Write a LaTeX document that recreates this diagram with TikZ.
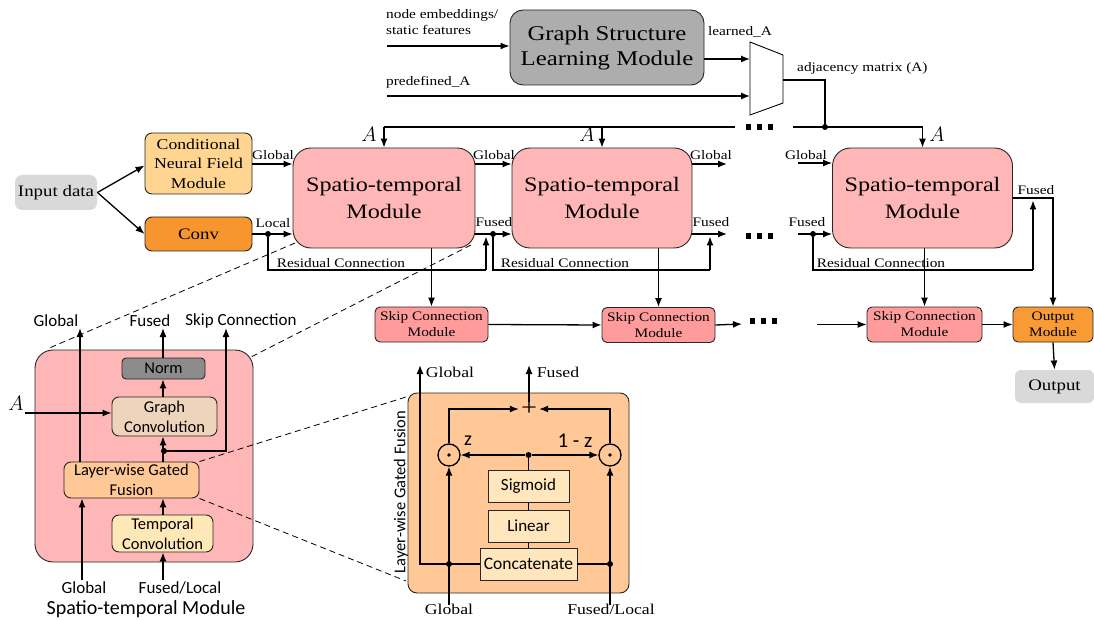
\documentclass[tikz,border=0pt]{standalone}
\usepackage{fontspec}
\setmainfont[FakeStretch=1.18]{Liberation Serif}
\newfontfamily\calib{Carlito}
\usetikzlibrary{arrows.meta,calc}
\newcommand\fs[2]{\fontsize{#1}{#2}\selectfont}
\definecolor{gslgray}{HTML}{ADADAD}
\definecolor{lgray}{HTML}{D9D9D9}
\definecolor{cnfc}{HTML}{FFD591}
\definecolor{convc}{HTML}{F7962E}
\definecolor{stpink}{HTML}{FFB6B6}
\definecolor{skipc}{HTML}{FF9B9B}
\definecolor{outc}{HTML}{F99B34}
\definecolor{normc}{HTML}{8C8C8C}
\definecolor{gconvc}{HTML}{EFD4BC}
\definecolor{lgfc}{HTML}{FFC896}
\definecolor{tconvc}{HTML}{FFE8B8}
\definecolor{innerc}{HTML}{FFE6BC}
\begin{document}
\begin{tikzpicture}[x=1pt,y=-1pt,
  blk/.style={draw=black!85,line width=0.9pt,rounded corners=7pt,align=center,inner sep=0pt},
  sq/.style={draw=black!85,line width=0.9pt,align=center,inner sep=0pt,fill=innerc},
  ln/.style={line width=1.3pt},
  arr/.style={line width=1.3pt,-{Latex[length=9pt,width=7pt]}},
  dsh/.style={line width=0.8pt,dash pattern=on 6pt off 4pt},
  dotc/.style={circle,fill=black,inner sep=0pt,minimum size=6pt},
  lbl/.style={inner sep=0pt,font=\fs{13}{16}},
  slbl/.style={inner sep=0pt,font=\calib\fs{17}{20}},
  flbl/.style={inner sep=0pt,font=\fs{15}{18}},
  odot/.style={circle,draw,line width=1.3pt,minimum size=22pt,inner sep=0pt,fill=lgfc},
]
\useasboundingbox (0,0) rectangle (1094,620);
\newcommand\dotsq[2]{\foreach \k in {0,11,22}{\fill (#1+\k,#2-2.7) rectangle ++(5.4,5.4);}}

% ---------- top: graph structure learning ----------
\node[blk,fill=gslgray,rounded corners=13pt,minimum width=194pt,minimum height=75pt,font=\fs{21}{25}] (gsl) at (607,47.5) {Graph Structure\\Learning Module};
\node[lbl,anchor=north west,align=left] (ne) at (386,9) {node embeddings/\\static features};
\coordinate (neS) at (387,46);
\draw[arr] (neS) -- (neS -| gsl.west);
\coordinate (mtl) at (750,42);
\coordinate (mbl) at (750,115);
\coordinate (mtr) at (783,55);
\coordinate (mbr) at (783,103);
\draw[line width=0.9pt,fill=white] (mtl) -- (mtr) -- (mbr) -- (mbl) -- cycle;
\coordinate (m1) at (750,59);
\coordinate (m2) at (750,96);
\coordinate (mo) at (783,80);
\draw[arr] (gsl.east |- m1) -- (m1);
\node[lbl] (learned) at (740,32) {learned\_A};
\node[lbl,anchor=west] (pre) at (386,82) {predefined\_A};
\coordinate (preS) at (387,96);
\draw[arr] (preS) -- (m2);
\node[lbl,anchor=west] (adj) at (797,68) {adjacency matrix (A)};
\coordinate (bus) at (825,127);
\draw[ln] (mo) -- (bus |- mo) -- (bus);
\node[dotc] (busdot) at (bus) {};

% ---------- input side ----------
\node[blk,fill=lgray,draw=none,font=\fs{16}{19}] (inp) at (56,192.5) [minimum width=82pt,minimum height=35pt] {Input data};
\node[blk,fill=cnfc,minimum width=107pt,minimum height=61pt,font=\fs{15}{19.5}] (cnf) at (198.5,163.5) {Conditional\\Neural Field\\Module};
\node[blk,fill=convc,minimum width=107pt,minimum height=34pt,font=\fs{16}{19}] (conv) at (198.5,234) {Conv};
\draw[arr] (inp.east) -- ($(cnf.west)+(0,2)$);
\draw[arr] (inp.east) -- (conv.west);

% ---------- spatio-temporal modules ----------
\tikzset{stm/.style={blk,fill=stpink,rounded corners=18pt,minimum height=100pt,font=\fs{20.5}{27}}}
\node[stm,minimum width=182pt] (st1) at (384,198) {Spatio-temporal\\Module};
\node[stm,minimum width=180pt] (st2) at (602,198) {Spatio-temporal\\Module};
\node[stm,minimum width=180pt] (st3) at (922.5,198) {Spatio-temporal\\Module};

% A bus
\coordinate (busL) at (735,127);
\coordinate (busR) at (793,127);
\draw[ln] (busL) -- (st1.north |- busL);
\draw[arr] (st1.north |- busL) -- (st1.north);
\draw[arr] (st2.north |- busL) -- (st2.north);
\draw[ln] (busR) -- (bus);
\draw[arr] (bus) -- (st3.north |- bus) -- (st3.north);
\dotsq{746}{127}
\node[inner sep=0pt,font=\fs{22}{22}] (A1) at (369,134) {$A$};
\node[inner sep=0pt,font=\fs{22}{22}] (A2) at (587,134) {$A$};
\node[inner sep=0pt,font=\fs{22}{22}] (A3) at (937,134) {$A$};

% st1 inputs
\coordinate (g0) at (252,164);
\coordinate (l0) at (252,234);
\draw[arr] (g0) -- (g0 -| st1.west);
\node[lbl] (gl0) at (273,155) {Global};
\draw[arr] (l0) -- (l0 -| st1.west);
\node[lbl] (ll0) at (273,223) {Local};
\node[dotc] (d0) at (268,234) {};
\coordinate (r1) at (486,270);
\draw[ln] (d0) -- (d0 |- r1) -- (r1);
\draw[arr] (r1) -- (486,236.5);
\node[lbl] (rl1) at (341,263) {Residual Connection};

% st1 -> st2
\coordinate (g1) at (475,164);
\coordinate (f1) at (475,234);
\draw[arr] (g1) -- (g1 -| st2.west);
\node[lbl] (gl1) at (494,155) {Global};
\draw[arr] (f1) -- (f1 -| st2.west);
\node[lbl] (fl1) at (494,222) {Fused};
\node[dotc] (d1) at (493,234) {};
\coordinate (r2) at (710,270);
\draw[ln] (d1) -- (d1 |- r2) -- (r2);
\draw[arr] (r2) -- (710,236.5);
\node[lbl] (rl2) at (565,263) {Residual Connection};

% st2 outputs
\coordinate (g2) at (692,164);
\coordinate (f2) at (692,234);
\draw[arr] (g2) -- (727,164);
\node[lbl] (gl2) at (711,155) {Global};
\draw[arr] (f2) -- (727,234);
\node[lbl] (fl2) at (711,222) {Fused};
\dotsq{746}{236}

% st3 inputs
\coordinate (g3) at (798,163);
\coordinate (f3) at (798,234);
\draw[arr] (g3) -- (g3 -| st3.west);
\node[lbl] (gl3) at (806,155) {Global};
\draw[arr] (f3) -- (f3 -| st3.west);
\node[lbl] (fl3) at (807,222) {Fused};
\node[dotc] (d3) at (813,234) {};
\coordinate (r3) at (1033,270);
\draw[ln] (d3) -- (d3 |- r3) -- (r3);
\draw[arr] (r3) -- (1033,200.5);
\node[lbl] (rl3) at (881,263) {Residual Connection};

% ---------- skip row ----------
\tikzset{skm/.style={blk,fill=skipc,rounded corners=5pt,minimum height=35pt,font=\fs{13}{16}}}
\node[skm,minimum width=113pt] (sk1) at (431.5,324.5) {Skip Connection\\Module};
\node[skm,minimum width=113pt] (sk2) at (658.5,325) {Skip Connection\\Module};
\node[skm,minimum width=115pt] (sk3) at (924.5,324.5) {Skip Connection\\Module};
\node[skm,fill=outc,minimum width=80pt] (outm) at (1053,324.5) {Output\\Module};
\node[blk,fill=lgray,draw=none,rounded corners=6pt,minimum width=79pt,minimum height=33pt,font=\fs{16}{19}] (outb) at (1054.5,386.5) {Output};
\draw[arr] (sk1.north |- st1.south) -- (sk1.north);
\draw[arr] (sk2.north |- st2.south) -- (sk2.north);
\draw[arr] (sk3.north |- st3.south) -- (sk3.north);
\draw[arr] (sk1.east) -- (sk2.west);
\coordinate (skd) at (742,324);
\draw[arr] (sk2.east) -- (skd);
\dotsq{750}{321}
\coordinate (sks) at (817,324.5);
\draw[arr] (sks) -- (sk3.west);
\draw[arr] (sk3.east) -- (outm.west);
\draw[arr] (outm.south) -- (outb.north);
\coordinate (fo) at (1013,198);
\draw[arr] (fo) -- (outm.north |- fo) -- (outm.north);
\node[lbl] (flo) at (1036,190) {Fused};

% ---------- detail: spatio-temporal module ----------
\tikzset{sbx/.style={blk,font=\calib\fs{16.5}{20}}}
\node[blk,fill=stpink,rounded corners=18pt,minimum width=218pt,minimum height=212pt] (big) at (144,456) {};
\node[sbx,fill=normc,rounded corners=4pt,minimum width=83pt,minimum height=21pt] (norm) at (163.5,368.5) {Norm};
\node[sbx,fill=gconvc,minimum width=105pt,minimum height=39pt] (gconv) at (164.5,416.5) {Graph\\Convolution};
\node[sbx,fill=lgfc,minimum width=135pt,minimum height=36pt] (lgf) at (131.5,480) {Layer-wise Gated\\Fusion};
\node[sbx,fill=tconvc,minimum width=101pt,minimum height=37pt] (tconv) at (162.5,533.5) {Temporal\\Convolution};
\coordinate (gb) at (82,580);
\draw[arr] (gb) -- (gb |- lgf.south);
\node[slbl] (gbl) at (84,588) {Global};
\coordinate (fb) at (163,580);
\draw[arr] (fb) -- (fb |- tconv.south);
\node[slbl] (fbl) at (180,588) {Fused/Local};
\draw[arr] (tconv.north -| fb) -- (lgf.south -| fb);
\coordinate (gt) at (80,328);
\draw[arr] (gt |- lgf.north) -- (gt);
\node[slbl] (gtl) at (56,321) {Global};
\node[dotc] (sd) at (164,451) {};
\draw[arr] (lgf.north -| fb) -- (gconv.south -| fb);
\coordinate (st) at (226,328);
\draw[arr] (sd) -- (st |- sd) -- (st);
\node[slbl] (stl) at (241,321) {Skip Connection};
\draw[arr] (gconv.north -| fb) -- (norm.south -| fb);
\coordinate (ft) at (163,328);
\draw[arr] (norm.north -| ft) -- (ft);
\node[slbl] (ftl) at (150,321) {Fused};
\node[inner sep=0pt,font=\fs{22}{22}] (A4) at (16,403) {$A$};
\coordinate (aL) at (25,413);
\draw[arr] (aL) -- (aL -| gconv.west);
\node[inner sep=0pt,font=\calib\fs{20}{22}] (cap) at (146,609) {Spatio-temporal Module};

% ---------- detail: layer-wise gated fusion ----------
\node[blk,fill=lgfc,rounded corners=9pt,minimum width=221pt,minimum height=200pt] (fbox) at (518.5,493) {};
\node[inner sep=0pt,rotate=90,font=\calib\fs{16.5}{18}] (fvt) at (401,492) {Layer-wise Gated Fusion};
\node[sq,minimum width=97pt,minimum height=32pt,font=\calib\fs{17.5}{19}] (cat) at (528.5,564) {Concatenate};
\node[sq,minimum width=81pt,minimum height=32pt,font=\calib\fs{17}{19}] (lin) at (528.5,526) {Linear};
\node[sq,minimum width=81pt,minimum height=32pt,font=\calib\fs{17}{19}] (sig) at (528.5,486) {Sigmoid};
\node[odot] (oL) at (449,455) {};
\node[odot] (oR) at (610,455) {};
\fill (oL) circle (1.8pt);
\fill (oR) circle (1.8pt);
\node[inner sep=0pt,font=\fs{24}{24}] (plus) at (529,409) {+};
\node[dotc] (gd) at (528.5,455) {};
\draw[ln] (cat.north) -- (lin.south);
\draw[ln] (lin.north) -- (sig.south);
\draw[ln] (sig.north) -- (gd);
\draw[arr] (gd) -- (oL.east);
\draw[arr] (gd) -- (oR.west);
\node[inner sep=0pt,font=\calib\fs{20}{22}] (zl) at (468,441) {z};
\node[inner sep=0pt,font=\calib\fs{21}{22}] (zr) at (575,441) {1 - z};
\draw[arr] (oL.north) -- (oL.north |- plus) -- ($(plus.west)+(-2,0)$);
\draw[arr] (oR.north) -- (oR.north |- plus) -- ($(plus.east)+(2,0)$);
\coordinate (fut) at (529,365);
\draw[arr] (plus.north) -- (fut);
\node[flbl] (futl) at (558,372) {Fused};
\node[dotc] (cl) at (449,564) {};
\node[dotc] (cr) at (610,564) {};
\coordinate (gut) at (420,365);
\draw[arr] (cat.west) -- (gut |- cat.west) -- (gut);
\node[flbl] (gutl) at (450,372) {Global};
\draw[ln] (cat.east) -- (cr);
\coordinate (gin) at (449,605);
\draw[arr] (gin) -- (oL.south);
\node[flbl] (ginl) at (449,609) {Global};
\coordinate (fin) at (610,605);
\draw[arr] (fin) -- (oR.south);
\node[flbl] (finl) at (611,609) {Fused/Local};

% ---------- dashed zoom lines ----------
\draw[dsh] (295,243) -- (47,349);
\draw[dsh] (471,245) -- (251,357);
\draw[dsh] (lgf.north east) -- (406,397);
\draw[dsh] (lgf.south east) -- (406,581);
\end{tikzpicture}
\end{document}
